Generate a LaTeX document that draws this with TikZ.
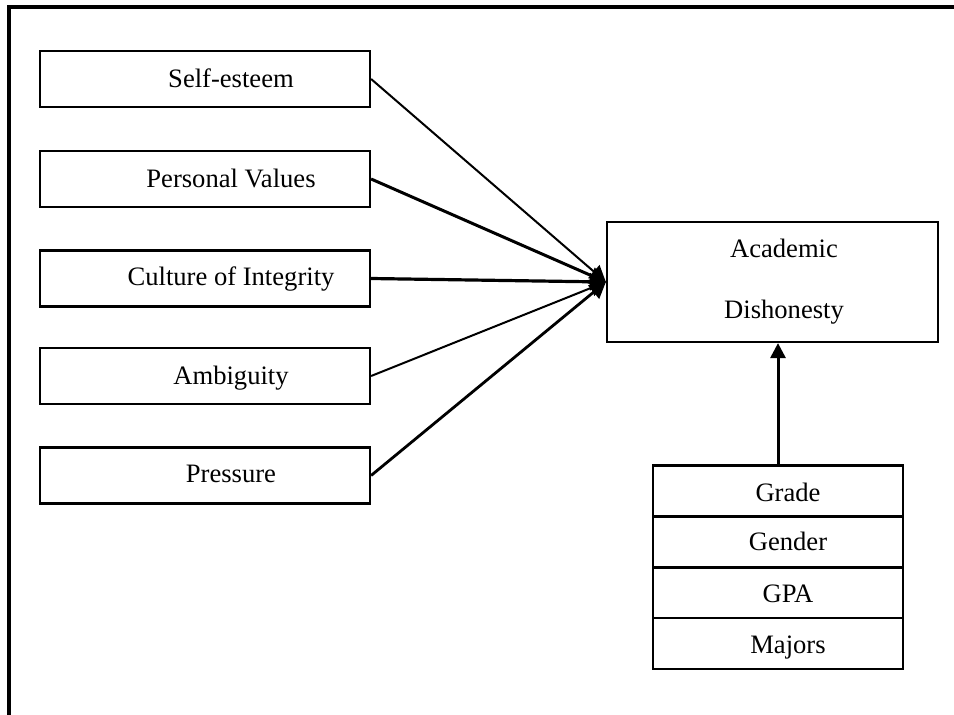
\documentclass[tikz,border=0pt]{standalone}
\usepackage{fontspec}
\setmainfont{Liberation Serif}
\usetikzlibrary{arrows.meta}
\tikzset{
  box/.style={draw, line width=2.2pt, minimum width=330pt, minimum height=56pt, inner sep=0pt},
  rowbox/.style={draw, line width=2.2pt, minimum width=250pt, minimum height=51pt, inner sep=0pt},
  lbl/.style={anchor=base, inner sep=0pt, font=\fontsize{26.6}{30}\selectfont},
  arr/.style={-{Triangle[length=16pt,width=17pt]}},
}
\begin{document}
\begin{tikzpicture}[x=1pt,y=-1pt]
\useasboundingbox (0,0) rectangle (954,715);
\draw[line width=4pt] (9,715) -- (9,7) -- (954,7);
% left boxes
\node[box] (se) at (205,79) {};
\node[box] (pv) at (205,179) {};
\node[box] (ci) at (205,278.5) {};
\node[box] (am) at (205,376) {};
\node[box] (pr) at (205,475.5) {};
\node[lbl] (tse) at ([xshift=26pt,yshift=-8pt]se.center) {Self-esteem};
\node[lbl] (tpv) at ([xshift=26pt,yshift=-8pt]pv.center) {Personal Values};
\node[lbl] (tci) at ([xshift=26pt,yshift=-7pt]ci.center) {Culture of Integrity};
\node[lbl] (tam) at ([xshift=26pt,yshift=-8pt]am.center) {Ambiguity};
\node[lbl] (tpr) at ([xshift=26pt,yshift=-7pt]pr.center) {Pressure};
% academic dishonesty
\node[draw, line width=2.2pt, minimum width=331pt, minimum height=120pt, inner sep=0pt] (ad) at (772.5,282) {};
\node[lbl] (tad1) at ([xshift=11.5pt,yshift=25pt]ad.center) {Academic};
\node[lbl] (tad2) at ([xshift=11.5pt,yshift=-36pt]ad.center) {Dishonesty};
% stack
\node[rowbox] (gr) at (778,491) {};
\node[rowbox] (ge) at (778,542) {};
\node[rowbox] (gp) at (778,592.5) {};
\node[rowbox] (ma) at (778,643.5) {};
\node[lbl] (tgr) at ([xshift=10pt,yshift=-10pt]gr.center) {Grade};
\node[lbl] (tge) at ([xshift=10pt,yshift=-8pt]ge.center) {Gender};
\node[lbl] (tgp) at ([xshift=10pt,yshift=-9.5pt]gp.center) {GPA};
\node[lbl] (tma) at ([xshift=10pt,yshift=-9.5pt]ma.center) {Majors};
% arrows
\draw[arr, line width=2pt] (se.east) -- (ad.west);
\draw[arr, line width=3pt] (pv.east) -- (ad.west);
\draw[arr, line width=3.2pt] (ci.east) -- (ad.west);
\draw[arr, line width=2pt] (am.east) -- (ad.west);
\draw[arr, line width=2.8pt] (pr.east) -- (ad.west);
\draw[line width=3pt, -{Triangle[length=15pt,width=15pt]}] (gr.north) -- (gr.north |- ad.south);
\end{tikzpicture}
\end{document}
